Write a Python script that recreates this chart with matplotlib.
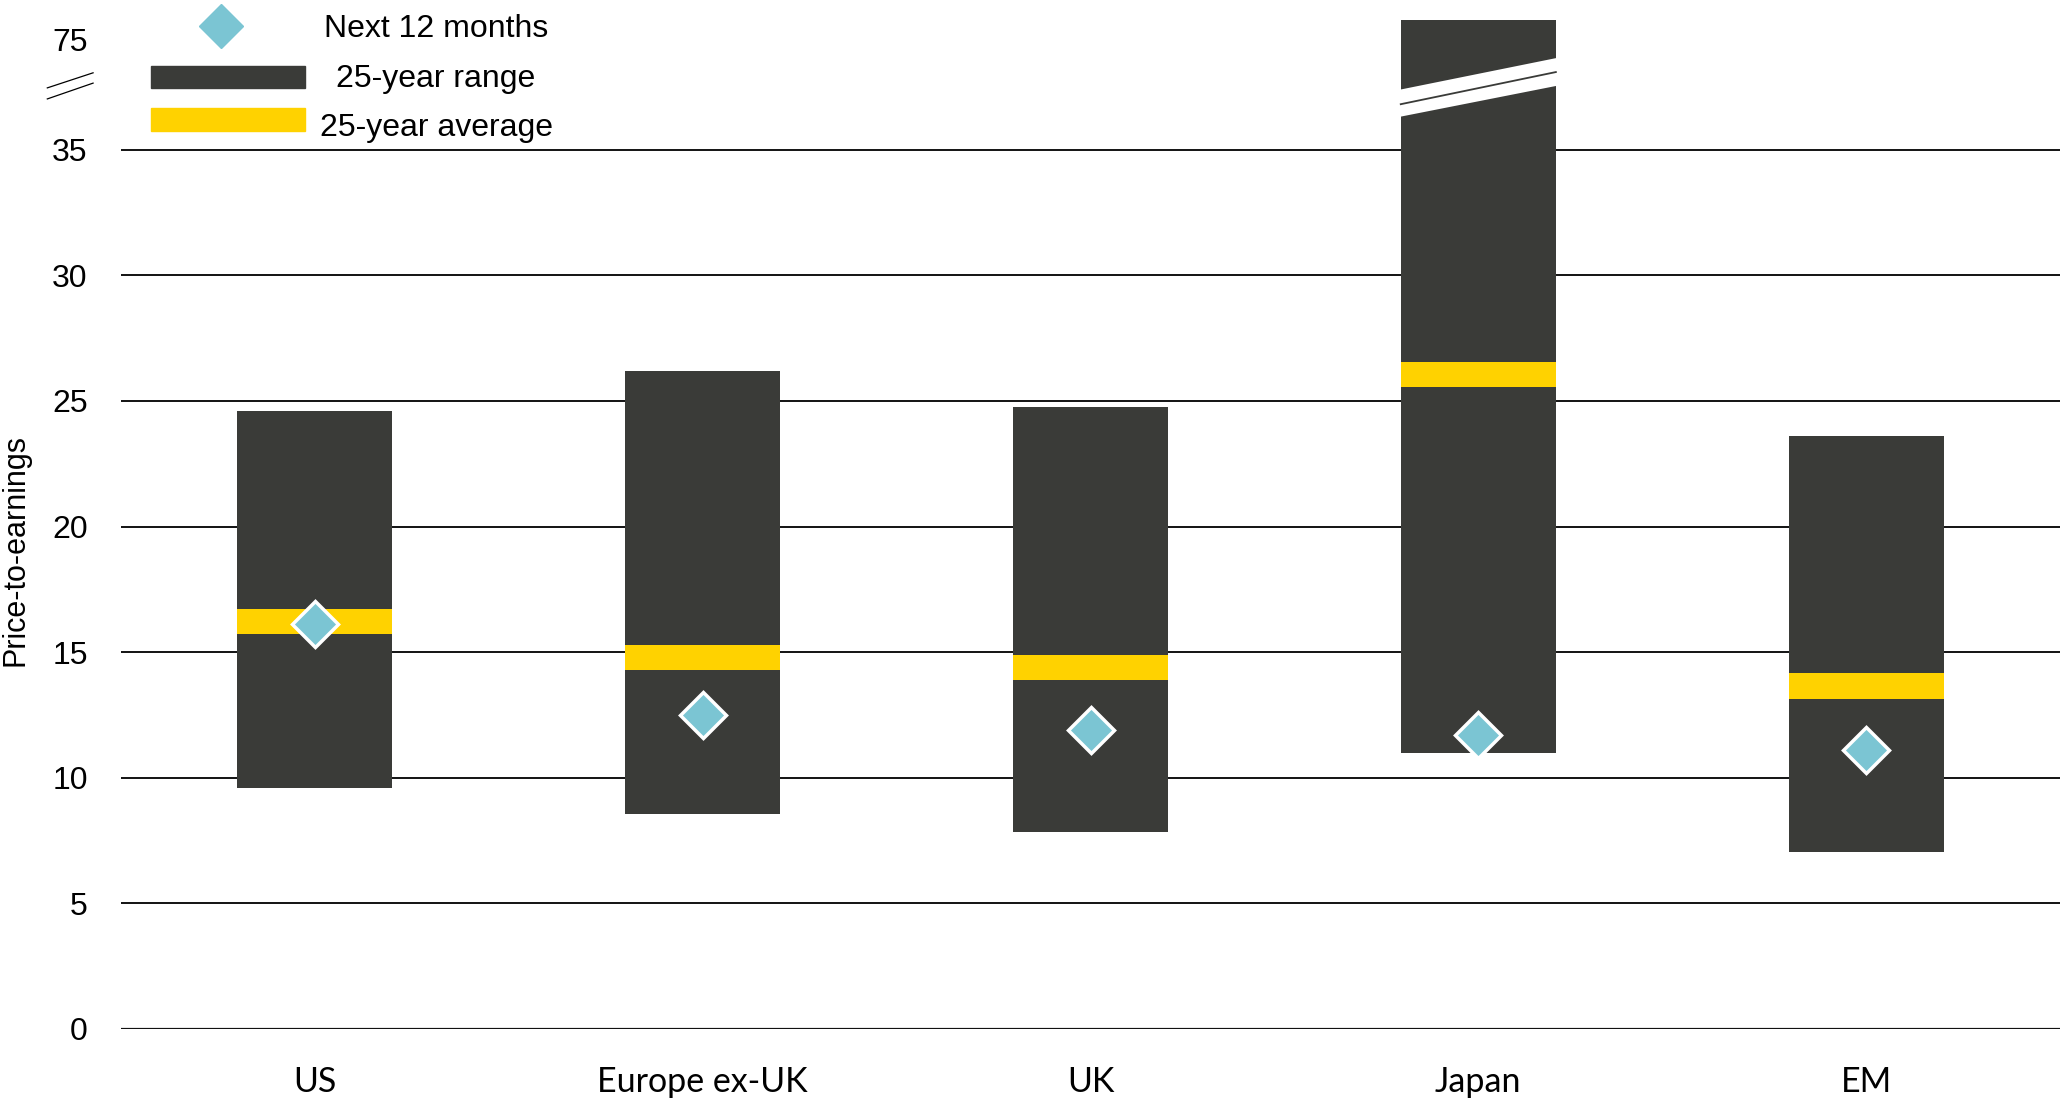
import numpy as np
import matplotlib.pyplot as plt
from matplotlib.transforms import blended_transform_factory
from matplotlib.patches import Polygon, Rectangle
from matplotlib.lines import Line2D

regions = ['US', 'Europe ex-UK', 'UK', 'Japan', 'EM']
range_low = [9.6, 8.55, 7.85, 11.0, 7.05]
range_high = [24.6, 26.2, 24.75, 84.0, 23.6]
avg_25y = [16.2, 14.8, 14.4, 26.05, 13.65]
next_12m = [16.1, 12.5, 11.9, 11.7, 11.1]
yticks = [0, 5, 10, 15, 20, 25, 30, 35, 75]

DARK = '#3a3b38'
GOLD = '#ffd200'
TEAL = '#7bc5d3'

# linear up to BREAK, squeezed hard above it so Japan's high still fits
BREAK = 36.0
SQUEEZE = 0.0872
TOP = 40.97          # top of the axes, in scaled units
MARK = 37.5          # where the break glyphs sit, in scaled units


def fwd(v):
    v = np.asarray(v, dtype=float)
    return np.where(v <= BREAK, v, BREAK + (v - BREAK) * SQUEEZE)


def inv(v):
    v = np.asarray(v, dtype=float)
    return np.where(v <= BREAK, v, BREAK + (v - BREAK) / SQUEEZE)


W, H = 2060, 1100
fig = plt.figure(figsize=(W / 100, H / 100), dpi=100)
ax = fig.add_axes([121 / W, 71.3 / H, 1 - 121 / W, 1028.7 / H])
ax.set_yscale('function', functions=(fwd, inv))

x = np.arange(len(regions))
low = np.array(range_low)
high = np.array(range_high)
avg = np.array(avg_25y)

# gridlines (no line for the 75 tick above the break)
for t in yticks:
    if t > BREAK:
        continue
    if t == 0:
        ax.axhline(t, color='#111111', lw=2.3, zorder=0)
    else:
        ax.axhline(t, color='black', lw=1.3, zorder=0)

ax.bar(x, high - low, bottom=low, width=0.4, color=DARK, zorder=2)
ax.bar(x, 1.0, bottom=avg - 0.5, width=0.4, color=GOLD, zorder=3)
ax.plot(x, next_12m, ls='none', marker='D', ms=23, mfc=TEAL, mec='white',
        mew=2.5, zorder=4)

ax.set_xlim(-0.5, len(regions) - 0.5)
ax.set_ylim(0, float(inv(TOP)))

# break across the Japan bar, drawn in scaled space
trans_s = ax.transLimits + ax.transAxes
j = regions.index('Japan')
band = Polygon([(j - 0.205, MARK - 1.19), (j + 0.205, MARK + 0.06),
                (j + 0.205, MARK + 1.17), (j - 0.205, MARK - 0.11)],
               closed=True, facecolor='white', edgecolor='none',
               transform=trans_s, zorder=5)
ax.add_patch(band)
ax.add_line(Line2D([j - 0.2, j + 0.2], [MARK - 0.68, MARK + 0.6],
                   color=DARK, lw=1.3, transform=trans_s, zorder=6))

# break glyph on the y axis
trans_m = blended_transform_factory(ax.transAxes, trans_s)
for dy0, dy1 in [(-0.03, 0.57), (-0.47, 0.16)]:
    ax.add_line(Line2D([-0.038, -0.0144], [MARK + dy0, MARK + dy1],
                       color='black', lw=0.9, transform=trans_m,
                       clip_on=False))

ax.set_yticks(yticks)
ax.set_yticklabels([str(t) for t in yticks], fontsize=23,
                   fontfamily='Liberation Sans')
ax.tick_params(axis='y', length=0, pad=24)
ax.set_xticks(x)
ax.set_xticklabels(regions, fontsize=24.5, fontfamily='Lato')
ax.tick_params(axis='x', length=0, pad=27)
for s in ax.spines.values():
    s.set_visible(False)

fig.text(16 / W, 1 - 550 / H, 'Price-to-earnings', rotation=90,
         ha='center', va='center', fontsize=22, fontfamily='Liberation Sans')


def fpx(px, py):
    return px / W, 1 - py / H


# legend, laid out by hand
fig.add_artist(Line2D([221 / W], [1 - 26 / H], transform=fig.transFigure,
                      marker='D', ms=22, mfc=TEAL, mec=TEAL, ls='none'))
fig.add_artist(Rectangle(fpx(151, 88), 154 / W, 22 / H,
                         transform=fig.transFigure, color=DARK))
fig.add_artist(Rectangle(fpx(151, 131), 154 / W, 23 / H,
                         transform=fig.transFigure, color=GOLD))
for label, py in [('Next 12 months', 29), ('25-year range', 79),
                  ('25-year average', 128)]:
    fig.text(*fpx(436, py), label, ha='center', va='center', fontsize=23,
             fontfamily='Liberation Sans')

fig.savefig('out.png', dpi=100)
